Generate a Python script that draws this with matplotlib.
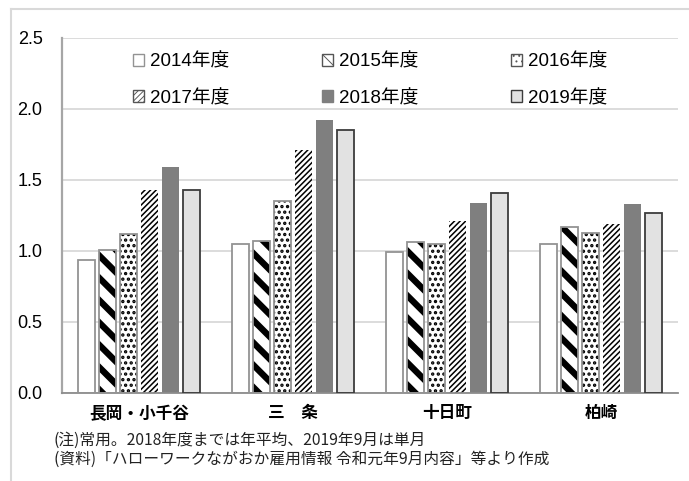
import matplotlib
matplotlib.use("Agg")
import matplotlib.pyplot as plt
import numpy as np
from matplotlib.patches import Patch
from matplotlib.lines import Line2D

# データ
areas = ["長岡・小千谷", "三　条", "十日町", "柏崎"]
years = ["2014年度", "2015年度", "2016年度", "2017年度", "2018年度", "2019年度"]
v2014 = [0.94, 1.05, 0.99, 1.05]
v2015 = [1.01, 1.07, 1.06, 1.17]
v2016 = [1.12, 1.35, 1.05, 1.13]
v2017 = [1.43, 1.71, 1.21, 1.19]
v2018 = [1.59, 1.92, 1.34, 1.33]
v2019 = [1.43, 1.85, 1.41, 1.27]
notes = ["(注)常用。2018年度までは年平均、2019年9月は単月",
         "(資料)「ハローワークながおか雇用情報 令和元年9月内容」等より作成"]

series = [v2014, v2015, v2016, v2017, v2018, v2019]

# ハッチの密度を合わせるため dpi を下げ、ポイント単位のサイズを S 倍する
DPI = 67
S = 100 / DPI

# スタイル: (face, hatch, hatch_lw, edge)
styles = [
    ("white", None, 0, "#939393"),
    ("white", "\\", 4.6, "#939393"),
    ("white", "..", 1.6, "#939393"),
    ("white", "////", 1.1, None),
    ("#7f7f7f", None, 0, None),
    ("#e2e2e2", None, 0, "#3c3c3c"),
]

jp = ["Liberation Sans", "Noto Sans CJK JP"]
plt.rcParams["font.family"] = jp

fig = plt.figure(figsize=(689 / DPI, 481 / DPI), dpi=DPI)
ax = fig.add_axes([0.09, 0.183, 0.894, 0.738])

x = np.arange(len(areas))
step = 0.1364
width = 0.11

for i, vals in enumerate(series):
    face, hatch, hlw, edge = styles[i]
    pos = x + (i - 2.5) * step
    if hatch:
        with plt.rc_context({"hatch.linewidth": hlw * S}):
            bars = ax.bar(pos, vals, width, color=face, edgecolor="black",
                          hatch=hatch, linewidth=0, zorder=2)
        for b in bars:
            if hasattr(b, "set_hatch_linewidth"):
                b.set_hatch_linewidth(hlw * S)
    else:
        ax.bar(pos, vals, width, color=face, linewidth=0, zorder=2)
    if edge:
        ax.bar(pos, vals, width, fill=False, edgecolor=edge, linewidth=1.3 * S, zorder=3)

ax.set_xlim(-0.5, 3.5)
ax.set_ylim(0, 2.5)
yt = np.arange(0, 2.51, 0.5)
ax.set_yticks(yt)
ax.set_yticklabels([f"{v:.1f}" for v in yt], fontsize=13 * S)
ax.set_xticks(x)
ax.set_xticklabels(areas, fontsize=12 * S, fontweight="bold")
ax.tick_params(length=0)
ax.tick_params(axis="y", pad=14 * S)
ax.tick_params(axis="x", pad=9 * S)
ax.grid(axis="y", color="#d9d9d9", linewidth=1.3 * S, zorder=0)
ax.set_axisbelow(True)
for s in ["top", "right"]:
    ax.spines[s].set_visible(False)
ax.spines["left"].set_color("#a6a6a6")
ax.spines["left"].set_linewidth(1.6 * S)
ax.spines["bottom"].set_color("#8c8c8c")
ax.spines["bottom"].set_linewidth(1.3 * S)

# 凡例 (行方向に並べる)
handles = []
for i, lab in enumerate(years):
    face, hatch, hlw, edge = styles[i]
    ec = "#555555" if hatch else (edge if edge else face)
    hl = max(hlw * 0.5, 0.8) * S if hatch else 1.0
    with plt.rc_context({"hatch.linewidth": hl}):
        h = Patch(facecolor=face, edgecolor=ec, hatch=hatch, linewidth=1.0 * S, label=lab)
    if hatch and hasattr(h, "set_hatch_linewidth"):
        h.set_hatch_linewidth(hl)
    handles.append(h)
order = [0, 3, 1, 4, 2, 5]
ax.legend(handles=[handles[k] for k in order], loc="upper center",
          bbox_to_anchor=(0.5, 1.005), ncol=3, frameon=False,
          prop={"size": 13.5 * S}, handlelength=0.6, handleheight=0.6,
          handletextpad=0.3, columnspacing=4.95, labelspacing=1.02)

# 注記
for j, t in enumerate(notes):
    fig.text(0.078, 0.085 - j * 0.039, t, fontsize=11.3 * S, family="Noto Sans CJK JP",
             va="center", color="#222222")

# 外枠
fig.add_artist(Line2D([0.016, 0.016], [0.0, 0.981], color="#d9d9d9", linewidth=1.5 * S,
                      transform=fig.transFigure))
fig.add_artist(Line2D([0.016, 1.0], [0.981, 0.981], color="#d9d9d9", linewidth=1.5 * S,
                      transform=fig.transFigure))

fig.savefig("out.png", dpi=DPI)
